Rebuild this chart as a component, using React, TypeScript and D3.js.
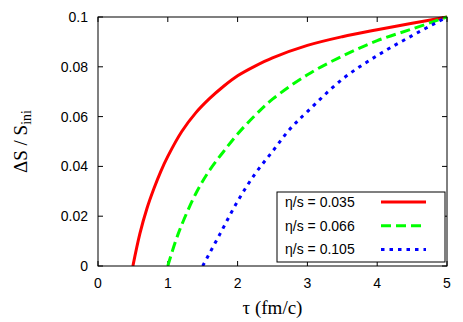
import * as d3 from "d3";

const width = 463;
const height = 322;
const marginLeft = 98;
const marginRight = 16;
const marginTop = 17;
const marginBottom = 56;

// tau (fm/c) and Delta S / S_ini
const redTau = [0.5, 0.6, 0.7, 0.8, 0.9, 1.0, 1.2, 1.4, 1.6, 1.8, 2.0, 2.25, 2.5, 3.0, 3.5, 4.0, 4.5, 5.0];
const redVal = [0, 0.013, 0.023, 0.031, 0.038, 0.044, 0.054, 0.0615, 0.0673, 0.0722, 0.0764, 0.0803, 0.0836, 0.0886, 0.0921, 0.0949, 0.0975, 0.1];

const greenTau = [1.0, 1.15, 1.4, 1.6, 1.8, 2.0, 2.25, 2.5, 3.0, 3.5, 4.0, 4.5, 5.0];
const greenVal = [0, 0.013, 0.029, 0.0385, 0.046, 0.053, 0.0605, 0.067, 0.0768, 0.0843, 0.0905, 0.0952, 0.1];

const blueTau = [1.5, 1.75, 2.0, 2.25, 2.5, 2.75, 3.0, 3.5, 4.0, 4.5, 5.0];
const blueVal = [0, 0.013, 0.026, 0.037, 0.046, 0.055, 0.062, 0.075, 0.0845, 0.0925, 0.1];

const xTicks = [0, 1, 2, 3, 4, 5];
const yTicks = [0, 0.02, 0.04, 0.06, 0.08, 0.1];
const yTickLabels = ["0", "0.02", "0.04", "0.06", "0.08", "0.1"];

const series = [
  { label: "η/s = 0.035", tau: redTau, val: redVal, color: "#ff0000", dash: "" },
  { label: "η/s = 0.066", tau: greenTau, val: greenVal, color: "#00ff00", dash: "10,5" },
  { label: "η/s = 0.105", tau: blueTau, val: blueVal, color: "#0000ff", dash: "3.5,5" },
];

const sans = "'Liberation Sans', Arial, Helvetica, sans-serif";
const serif = "'Liberation Serif', 'Times New Roman', serif";

export default function App() {
  const x = d3.scaleLinear().domain([0, 5]).range([marginLeft, width - marginRight]);
  const y = d3.scaleLinear().domain([0, 0.1]).range([height - marginBottom, marginTop]);

  const line = d3
    .line<[number, number]>()
    .x((d) => x(d[0]))
    .y((d) => y(d[1]))
    .curve(d3.curveCatmullRom.alpha(0.5));

  const x0 = x(0), x1 = x(5), y0 = y(0), y1 = y(0.1);
  const tickLen = 5;

  const legX = 277, legY = 192, legW = 168, legH = 70;

  return (
    <svg
      width={width}
      height={height}
      viewBox={`0 0 ${width} ${height}`}
      style={{ position: "absolute", left: 0, top: 0, background: "#fff" }}
    >
      <defs>
        <clipPath id="plot">
          <rect x={x0} y={y1 - 3} width={x1 - x0 + 3} height={y0 - y1 + 3} />
        </clipPath>
      </defs>

      {/* ticks, mirrored on all sides */}
      <g stroke="#000" strokeWidth={1}>
        {xTicks.map((t) => (
          <g key={"x" + t}>
            <line x1={x(t)} x2={x(t)} y1={y0} y2={y0 - tickLen} />
            <line x1={x(t)} x2={x(t)} y1={y1} y2={y1 + tickLen} />
          </g>
        ))}
        {yTicks.map((t) => (
          <g key={"y" + t}>
            <line x1={x0} x2={x0 + tickLen} y1={y(t)} y2={y(t)} />
            <line x1={x1} x2={x1 - tickLen} y1={y(t)} y2={y(t)} />
          </g>
        ))}
      </g>

      <g fontFamily={sans} fontSize={14} fill="#000">
        {xTicks.map((t) => (
          <text key={t} x={x(t)} y={y0 + 22} textAnchor="middle">
            {t}
          </text>
        ))}
        {yTicks.map((t, i) => (
          <text key={t} x={x0 - 10} y={y(t) + 5} textAnchor="end">
            {yTickLabels[i]}
          </text>
        ))}
      </g>

      <g clipPath="url(#plot)" fill="none">
        {series.map((s) => (
          <path
            key={s.label}
            d={line(s.tau.map((t, i) => [t, s.val[i]] as [number, number])) ?? ""}
            stroke={s.color}
            strokeWidth={3}
            strokeDasharray={s.dash || undefined}
          />
        ))}
      </g>

      <rect x={x0} y={y1} width={x1 - x0} height={y0 - y1} fill="none" stroke="#000" strokeWidth={1} />

      {/* legend */}
      <rect x={legX} y={legY} width={legW} height={legH} fill="#fff" stroke="#000" strokeWidth={1} />
      {series.map((s, i) => {
        const cy = legY + 10 + i * 23.7;
        return (
          <g key={s.label}>
            <text x={legX + 8} y={cy + 5} fontFamily={sans} fontSize={14}>
              {s.label}
            </text>
            <line
              x1={381}
              x2={426}
              y1={cy}
              y2={cy}
              stroke={s.color}
              strokeWidth={3}
              strokeDasharray={s.dash || undefined}
            />
          </g>
        );
      })}

      <text x={(x0 + x1) / 2} y={314} textAnchor="middle" fontFamily={serif} fontSize={19}>
        τ (fm/c)
      </text>
      <text
        transform={`translate(27,${(y0 + y1) / 2}) rotate(-90)`}
        textAnchor="middle"
        fontFamily={serif}
        fontSize={19}
      >
        ΔS / S<tspan fontSize={14} dy={4}>ini</tspan>
      </text>
    </svg>
  );
}
